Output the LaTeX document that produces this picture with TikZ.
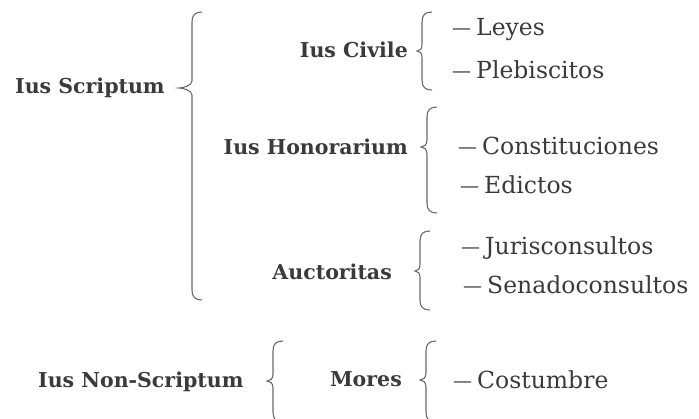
\documentclass[tikz,border=0pt]{standalone}
\usepackage{fontspec}
\setmainfont{DejaVu Serif}
\usepackage{tikz}
\usetikzlibrary{positioning}

\definecolor{ink}{HTML}{3A3A3A}
\definecolor{brcgray}{HTML}{6A6A6A}

% curly bracket: x, top, tip, bottom, depth of tip
\newcommand{\curly}[5]{%
  \draw[brc] ({#1+10},#2) .. controls ({#1+3},#2) and (#1,{#2+3}) .. (#1,{#2+10})
    -- (#1,{#3-7}) .. controls (#1,{#3-2}) and ({#1-#5+3},#3) .. ({#1-#5},#3)
    .. controls ({#1-#5+3},#3) and (#1,{#3+2}) .. (#1,{#3+7})
    -- (#1,{#4-10}) .. controls (#1,{#4-3}) and ({#1+3},#4) .. ({#1+10},#4);}
% dash in front of each item
\newcommand{\dsh}{\raisebox{1pt}{\fontsize{19}{20}\selectfont—}\kern5pt}

\begin{document}
\begin{tikzpicture}[x=1pt,y=-1pt,
    head/.style={font=\bfseries\fontsize{20.5}{24}\selectfont,text=ink,inner sep=0pt},
    item/.style={font=\fontsize{23.5}{27}\selectfont,text=ink,inner sep=0pt,anchor=west},
    brc/.style={draw=brcgray,line width=1.1pt}]
   \useasboundingbox (0,0) rectangle (699,418);
   % left column
   \node[head,anchor=west] (scrip) at (15,88) {Ius Scriptum};
   \node[head,anchor=west] (nonscrip) at (38,382) {Ius Non-Scriptum};
   % middle column
   \node[head,anchor=east] (civ) at (408,50) {Ius Civile};
   \node[head,anchor=east] (hon) at (408,147) {Ius Honorarium};
   \node[head,anchor=east] (auct) at (392,272) {Auctoritas};
   \node[head,anchor=east] (mor) at (402,379) {Mores};
   % right column
   \node[item] (ley) at (452,30) {\dsh Leyes};
   \node[item] (pleb) at (452,70) {\dsh Plebiscitos};
   \node[item] (const) at (458,146) {\dsh Constituciones};
   \node[item] (edic) at (460,185) {\dsh Edictos};
   \node[item] (juris) at (461,248) {\dsh Jurisconsultos};
   \node[item] (senad) at (463,285) {\dsh Senadoconsultos};
   \node[item] (cost) at (453,380) {\dsh Costumbre};
   % brackets
   \curly{192}{12}{88}{300}{13}
   \curly{422}{12}{51}{90}{5}
   \curly{427}{107}{147}{213}{6}
   \curly{420}{231}{271}{310}{5}
   \curly{273}{341}{381}{422}{6}
   \curly{426}{341}{380}{422}{6}
\end{tikzpicture}
\end{document}
